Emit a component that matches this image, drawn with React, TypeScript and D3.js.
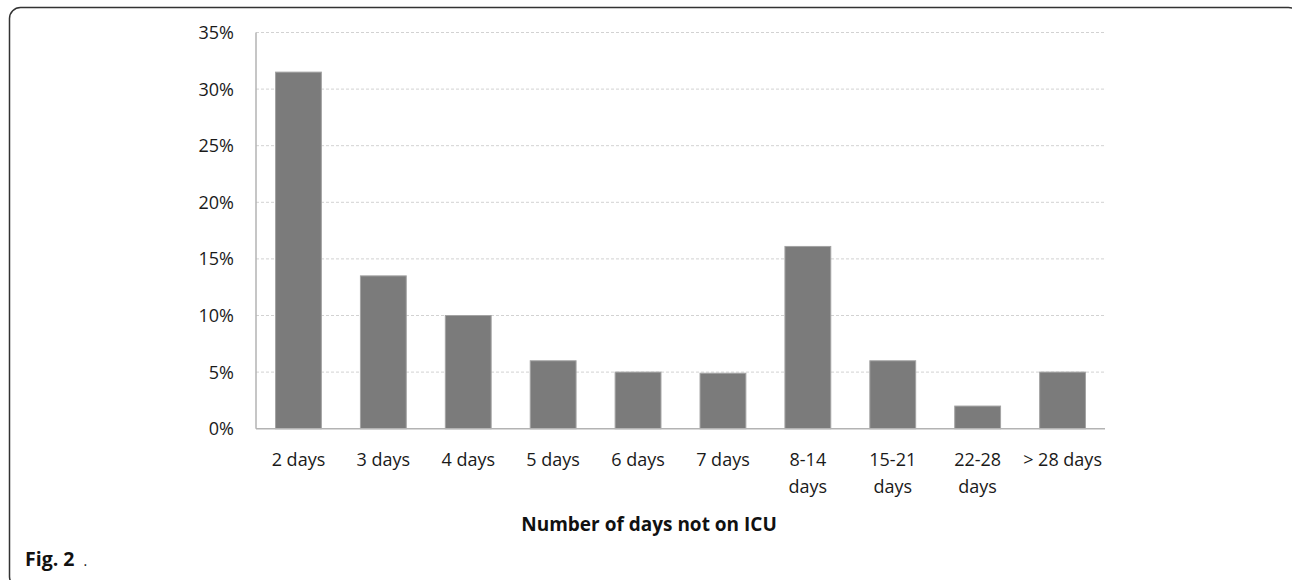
import React from "react";
import * as d3 from "d3";

const categories: string[][] = [
  ["2 days"], ["3 days"], ["4 days"], ["5 days"], ["6 days"], ["7 days"],
  ["8-14", "days"], ["15-21", "days"], ["22-28", "days"], ["> 28 days"],
];
const values: number[] = [31.5, 13.5, 10, 6, 5, 4.9, 16.1, 6, 2, 5];
const yTicks: number[] = [0, 5, 10, 15, 20, 25, 30, 35];
const xTitle = "Number of days not on ICU";

const W = 1292;
const H = 580;
const left = 256;
const right = 1105;
const top = 32.5;
const bottom = 428.7;
const font = "'Open Sans', sans-serif";

export default function App() {
  const x = d3
    .scaleBand<number>()
    .domain(d3.range(categories.length))
    .range([left, right])
    .paddingInner(0.46)
    .paddingOuter(0.23);
  const y = d3.scaleLinear().domain([0, 35]).range([bottom, top]);

  return (
    <svg
      width={W}
      height={H}
      style={{ position: "absolute", left: 0, top: 0, background: "#fff" }}
    >
      <rect x={9.5} y={7.5} width={1290} height={580} rx={11} ry={11} fill="#fff" stroke="#333" strokeWidth={1.5} />
      {yTicks.map((t) => (
        <g key={t}>
          {t > 0 && (
            <line x1={left} x2={right} y1={y(t)} y2={y(t)} stroke="#d2d2d2" strokeWidth={1} strokeDasharray="3,2" />
          )}
          <text x={234} y={y(t)} dy="0.36em" textAnchor="end" fontFamily={font} fontSize={18} fill="#1a1a1a">
            {t}%
          </text>
        </g>
      ))}
      {values.map((v, i) => (
        <rect
          key={i}
          x={x(i)}
          y={y(v)}
          width={x.bandwidth()}
          height={bottom - y(v)}
          fill="#7b7b7b"
          stroke="#a3a3a3"
          strokeWidth={1}
        />
      ))}
      <line x1={left} x2={left} y1={top} y2={bottom} stroke="#b3b3b3" strokeWidth={1.5} />
      <line x1={left} x2={right} y1={bottom} y2={bottom} stroke="#b3b3b3" strokeWidth={1.5} />
      {categories.map((lines, i) => (
        <text key={i} x={(x(i) as number) + x.bandwidth() / 2} y={466} textAnchor="middle" fontFamily={font} fontSize={18} fill="#1a1a1a">
          {lines.map((l, j) => (
            <tspan key={j} x={(x(i) as number) + x.bandwidth() / 2} dy={j === 0 ? 0 : 27}>
              {l}
            </tspan>
          ))}
        </text>
      ))}
      <text x={649} y={531} textAnchor="middle" fontFamily={font} fontSize={19} fontWeight="bold" fill="#111">
        {xTitle}
      </text>
      <text x={25} y={566} fontFamily={font} fontSize={19.5} fontWeight="bold" fill="#111">
        Fig. 2
        <tspan fontWeight="normal" fontSize={14} dx={9}>.</tspan>
      </text>
    </svg>
  );
}
